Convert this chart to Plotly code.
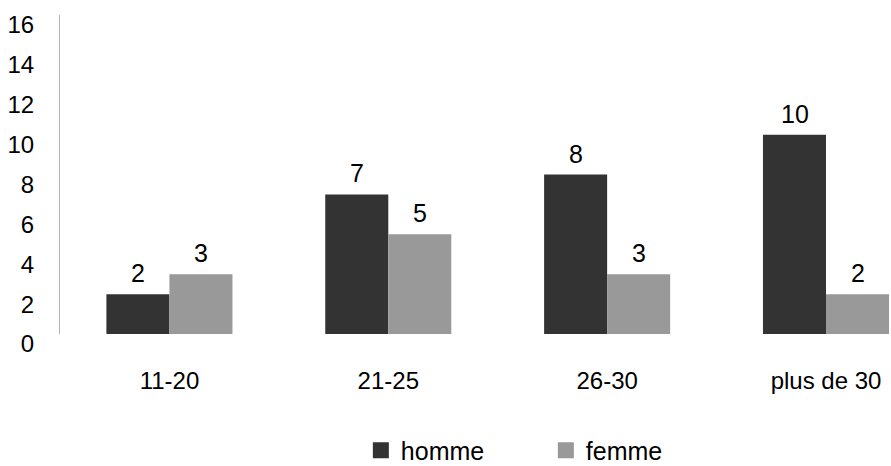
import plotly.graph_objects as go

categories = ["11-20", "21-25", "26-30", "plus de 30"]
homme = [2, 7, 8, 10]
femme = [3, 5, 3, 2]
y_ticks = [0, 2, 4, 6, 8, 10, 12, 14, 16]

FONT = "Liberation Sans, Arial, sans-serif"
C_H = "#333333"
C_F = "#999999"

fig = go.Figure()
fig.add_trace(go.Bar(x=categories, y=homme, name="homme", marker=dict(color=C_H, line=dict(width=0)),
                     showlegend=False))
fig.add_trace(go.Bar(x=categories, y=femme, name="femme", marker=dict(color=C_F, line=dict(width=0)),
                     showlegend=False))
# legend proxies (larger square swatches)
fig.add_trace(go.Scatter(x=[None], y=[None], mode="markers", name="homme",
                         marker=dict(symbol="square", size=16, color=C_H)))
fig.add_trace(go.Scatter(x=[None], y=[None], mode="markers", name="femme",
                         marker=dict(symbol="square", size=16, color=C_F)))

# value labels above bars
for series, dx in ((homme, -31.5), (femme, 31.5)):
    for cat, v in zip(categories, series):
        fig.add_annotation(x=cat, y=v, text=str(v), showarrow=False, xshift=dx, yshift=21,
                           yanchor="middle", font=dict(size=25, family=FONT, color="#000000"))

fig.update_layout(
    width=891, height=466,
    margin=dict(l=60, r=0, t=15, b=132),
    paper_bgcolor="white", plot_bgcolor="white",
    font=dict(family=FONT, size=24, color="#000000"),
    barmode="group", bargap=0.424, bargroupgap=0,
    showlegend=True,
    legend=dict(orientation="h", xref="container", yref="container",
                x=0.405, xanchor="left", y=0.033, yanchor="middle",
                font=dict(size=25, family=FONT), itemwidth=30, entrywidth=140,
                traceorder="normal", itemsizing="trace"),
)
fig.update_xaxes(
    type="category", range=[-0.5, 3.297], automargin=False,
    showline=False, showgrid=False, zeroline=False, ticks="",
    tickfont=dict(size=24, family=FONT), ticklabelstandoff=30,
)
fig.update_yaxes(
    range=[0, 16], tickvals=y_ticks, ticktext=[str(v) for v in y_ticks], automargin=False,
    showline=True, linecolor="#b3b3b3", linewidth=1,
    showgrid=False, zeroline=False, ticks="",
    tickfont=dict(size=24, family=FONT), ticklabelstandoff=20, ticklabelshift=10,
)

fig.write_html("out.html", config={"displayModeBar": False},
               post_script="document.body.style.margin='0';document.body.style.padding='0';"
                           "document.documentElement.style.overflow='hidden';")
